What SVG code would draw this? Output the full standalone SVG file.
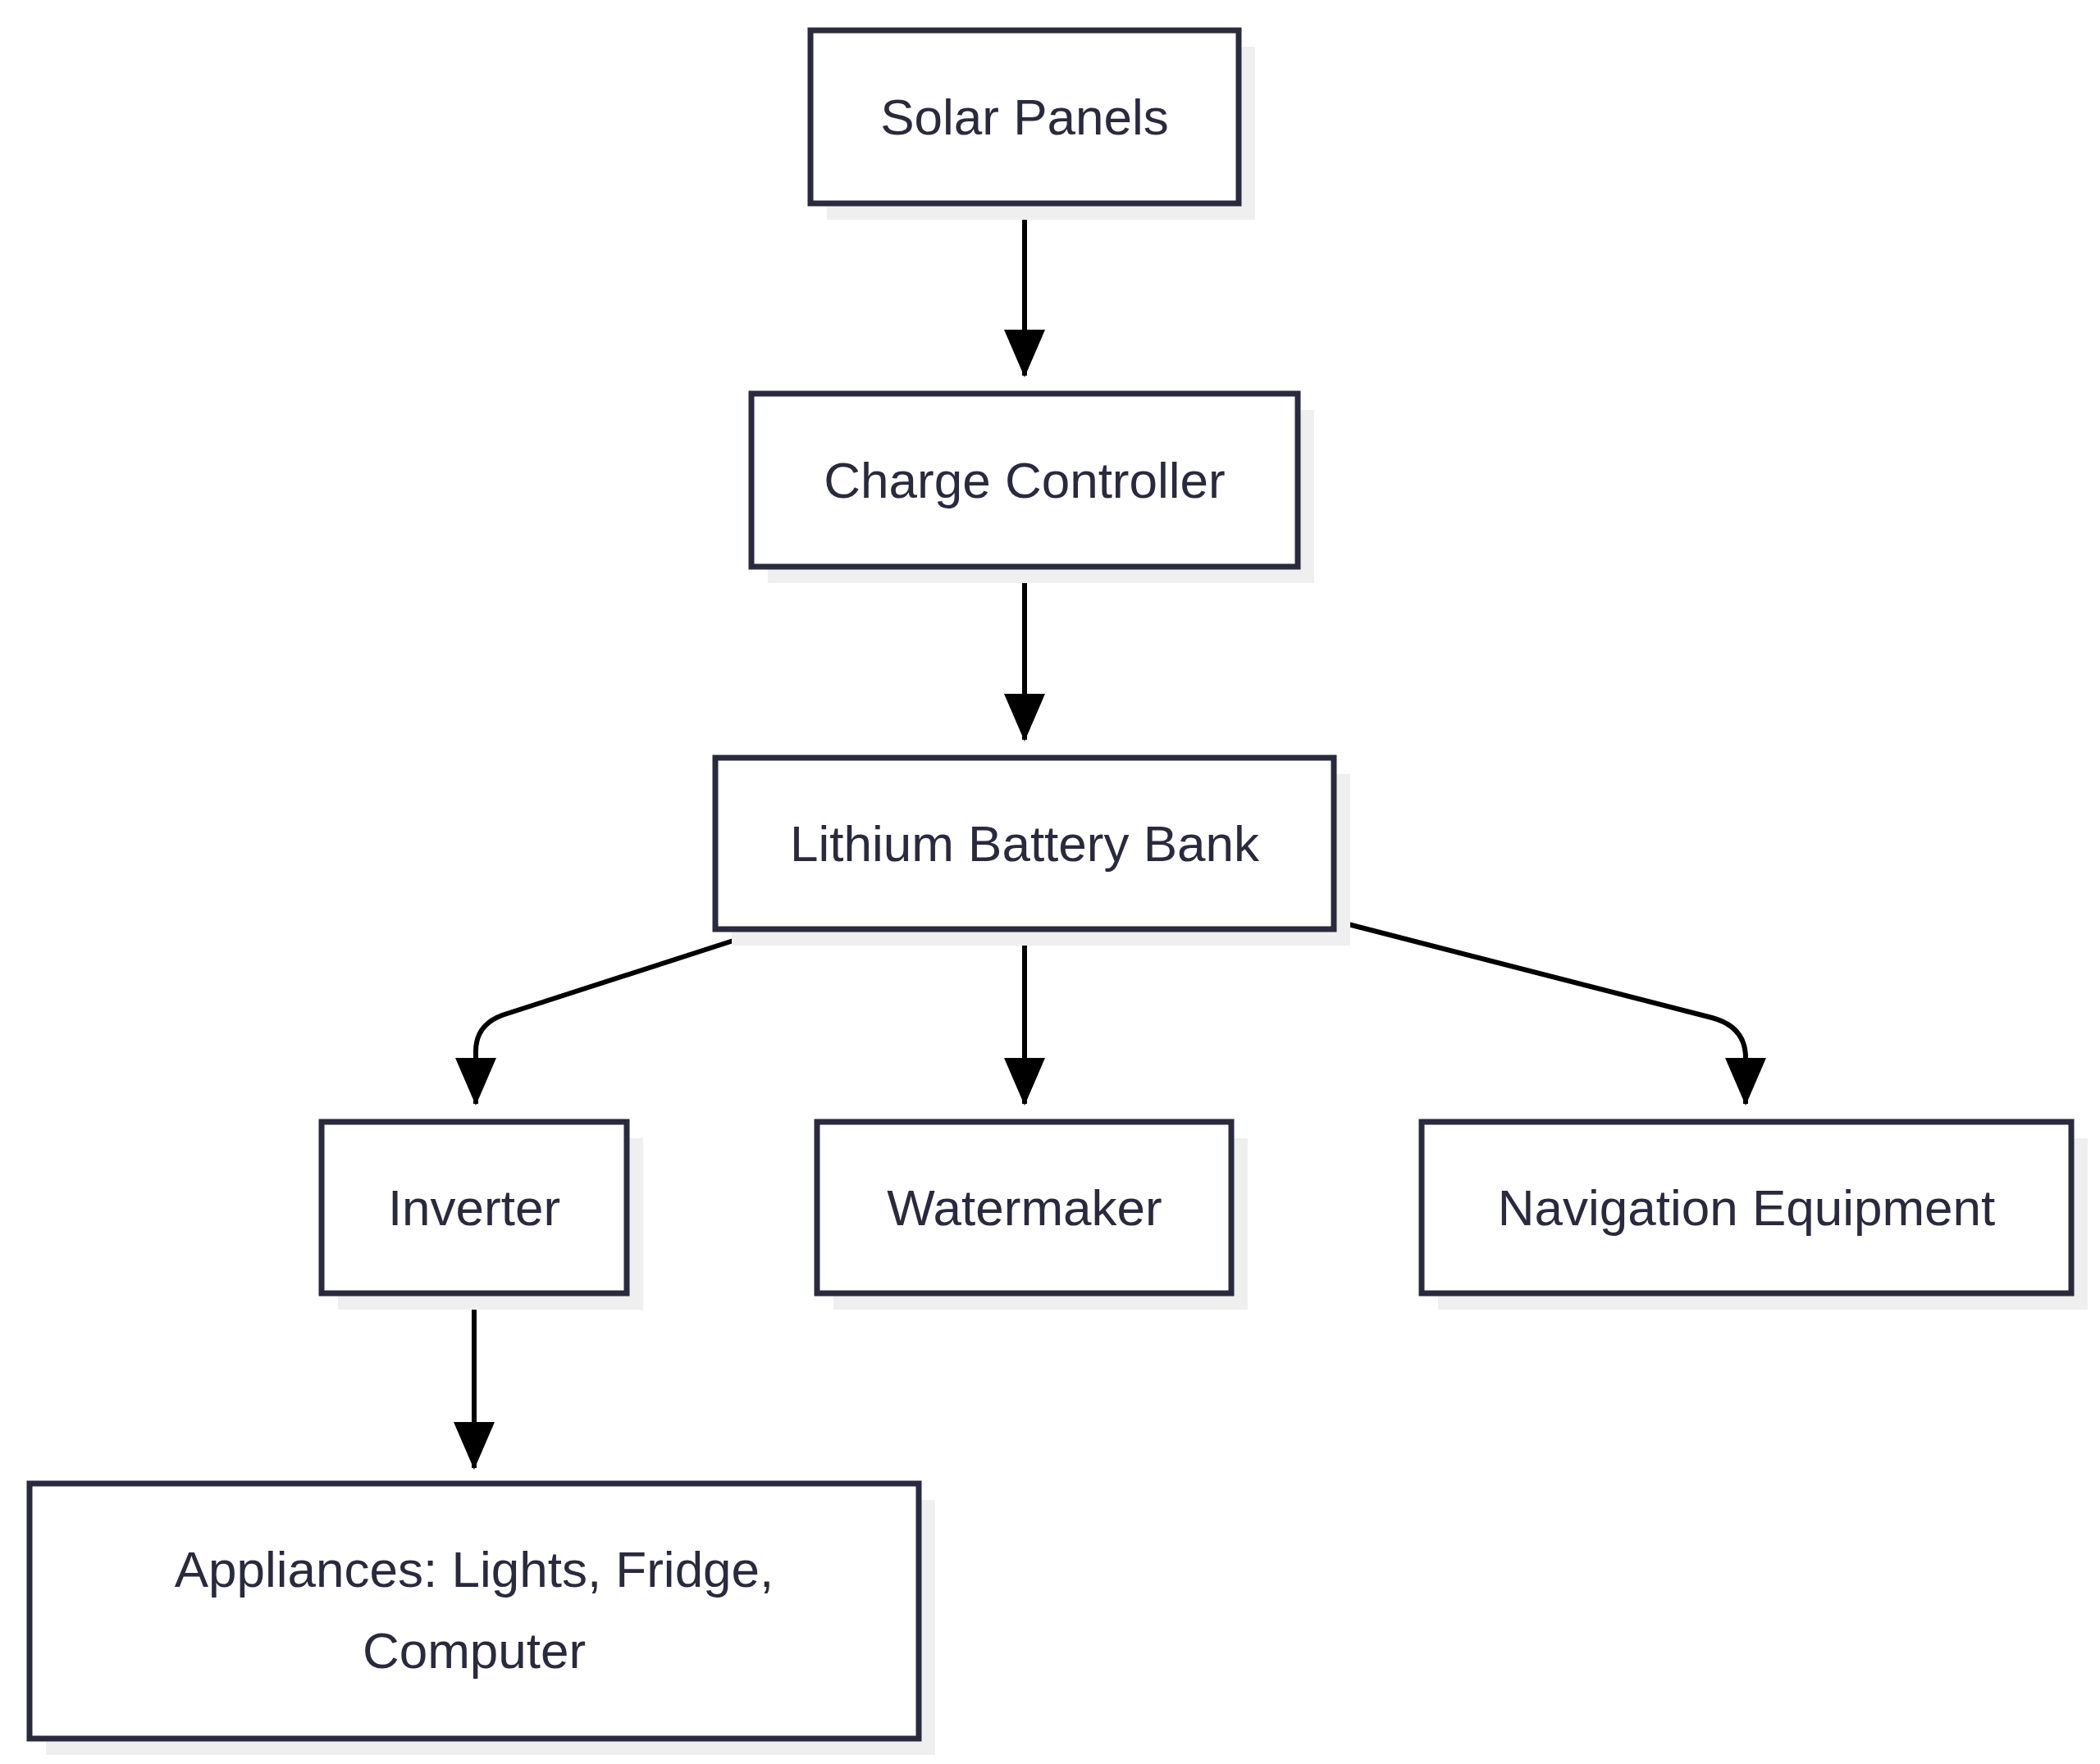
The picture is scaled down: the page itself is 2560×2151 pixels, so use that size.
<svg xmlns="http://www.w3.org/2000/svg" width="2560" height="2151" viewBox="0 0 2560 2151">
<style>
.box{fill:#fff;stroke:#2a2a3e;stroke-width:7}
.sh{fill:#efefef}
.t{font-family:"Liberation Sans",Arial,sans-serif;font-size:62px;fill:#2a2a3e;text-anchor:middle}
.e{fill:none;stroke:#000;stroke-width:6}
</style>
<defs><marker id="a" markerUnits="userSpaceOnUse" markerWidth="60" markerHeight="50" refX="56" refY="25" orient="auto" viewBox="0 0 60 50"><path d="M0,0 L58,25 L0,50 Z" fill="#000"/></marker></defs>
<rect width="2560" height="2151" fill="#fff"/>
<g id="edges">
<path class="e" d="M1249,248 V458" marker-end="url(#a)"/>
<path class="e" d="M1249,691 V902" marker-end="url(#a)"/>
<path class="e" d="M1249,1133 V1346" marker-end="url(#a)"/>
<path class="e" d="M931,1135 L612,1238 Q580,1250 580,1282 V1346" marker-end="url(#a)"/>
<path class="e" d="M1628,1123 L2087,1241 Q2128,1252 2128,1290 V1346" marker-end="url(#a)"/>
<path class="e" d="M578,1577 V1790" marker-end="url(#a)"/>
</g>
<g id="solar"><rect class="sh" x="1008" y="57" width="522" height="211"/><rect class="box" x="988" y="37" width="522" height="211"/><text class="t" x="1249" y="164">Solar Panels</text></g>
<g id="charge"><rect class="sh" x="936" y="500" width="666" height="211"/><rect class="box" x="916" y="480" width="666" height="211"/><text class="t" x="1249" y="607">Charge Controller</text></g>
<g id="battery"><rect class="sh" x="892" y="944" width="754" height="209"/><rect class="box" x="872" y="924" width="754" height="209"/><text class="t" x="1249" y="1050">Lithium Battery Bank</text></g>
<g id="inverter"><rect class="sh" x="412" y="1388" width="372" height="209"/><rect class="box" x="392" y="1368" width="372" height="209"/><text class="t" x="578" y="1494">Inverter</text></g>
<g id="watermaker"><rect class="sh" x="1016" y="1388" width="505" height="209"/><rect class="box" x="996" y="1368" width="505" height="209"/><text class="t" x="1249" y="1494">Watermaker</text></g>
<g id="nav"><rect class="sh" x="1753" y="1388" width="792" height="209"/><rect class="box" x="1733" y="1368" width="792" height="209"/><text class="t" x="2129" y="1494">Navigation Equipment</text></g>
<g id="appliances"><rect class="sh" x="56" y="1829" width="1084" height="311"/><rect class="box" x="36" y="1809" width="1084" height="311"/><text class="t" x="578" y="1935">Appliances: Lights, Fridge,</text><text class="t" x="578" y="2034">Computer</text></g>
</svg>
